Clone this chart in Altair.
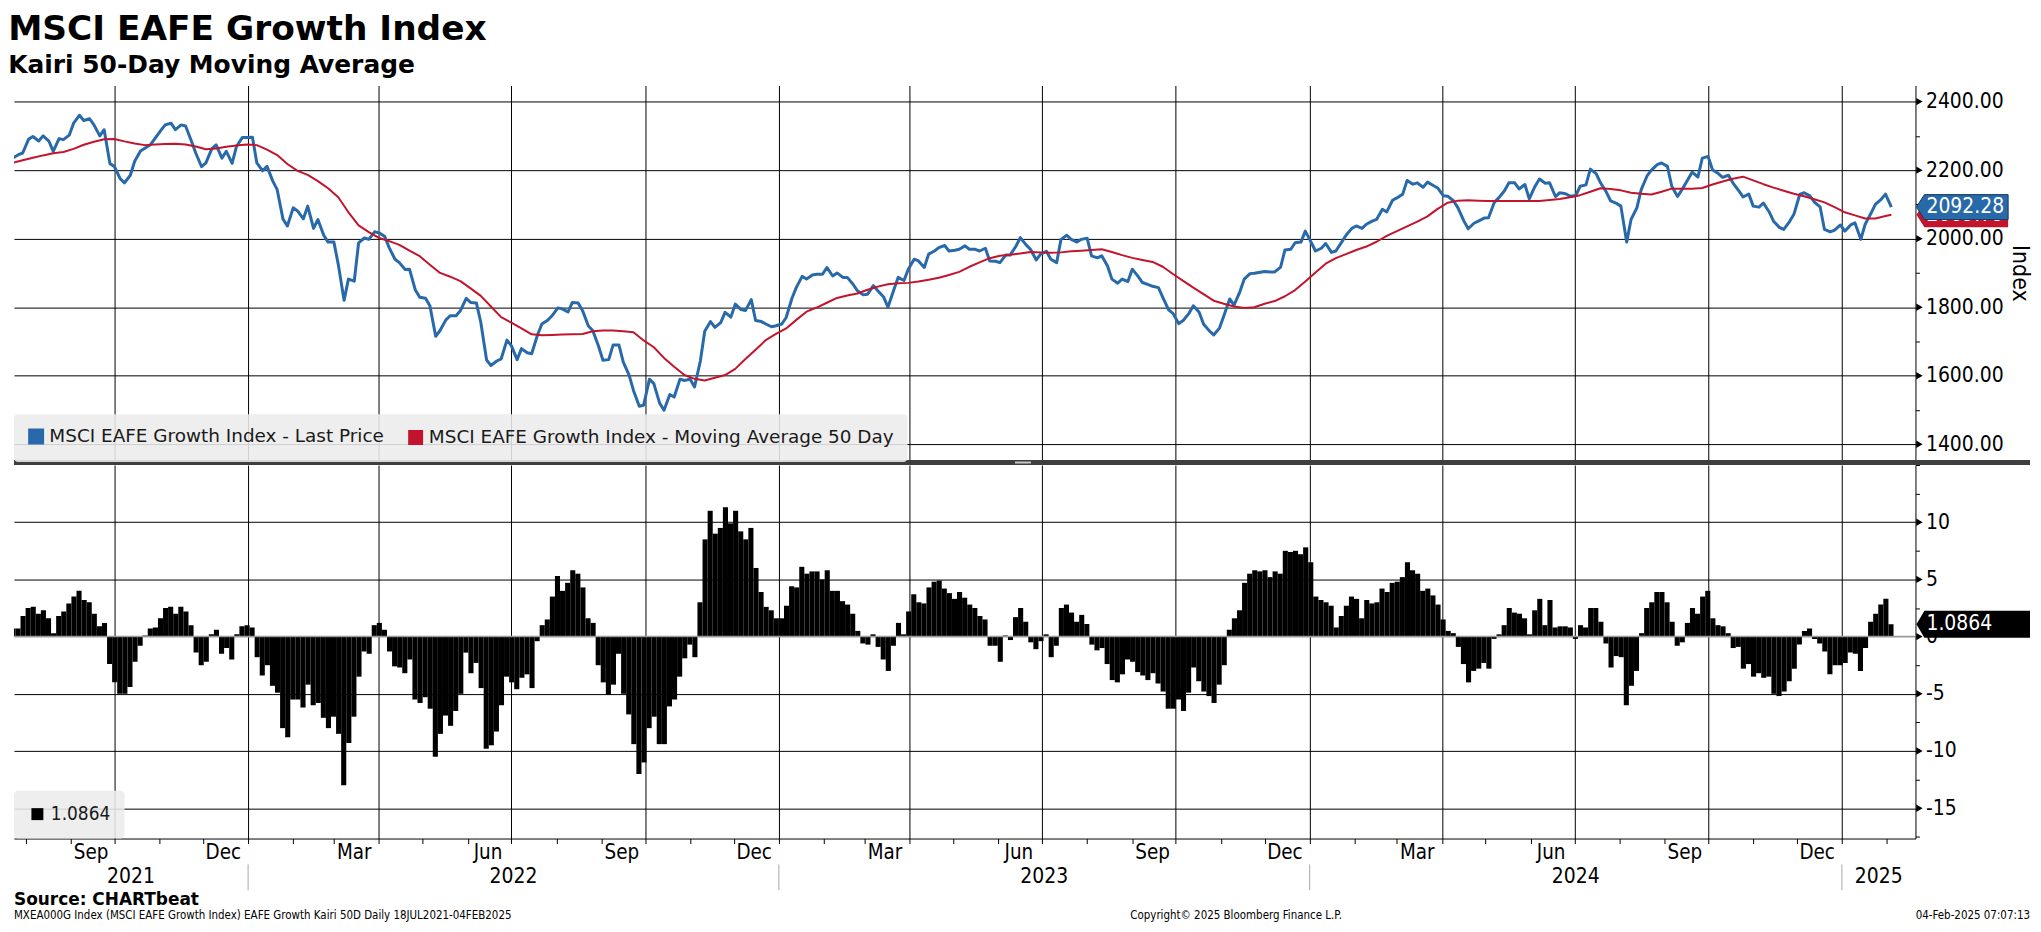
import altair as alt
import pandas as pd

# ---------------- data ----------------
# Friday closes (from 2021-07-23, weekly) plus the last day (2025-02-04),
# and the Tuesday readings three days before each Friday.
FIRST_FRIDAY = "2021-07-23"
LAST_DAY = "2025-02-04"

PRICE_FRI = [
    2235, 2250, 2298, 2300, 2255, 2289, 2337, 2345, 2332, 2318,
    2211, 2163, 2226, 2264, 2293, 2332, 2318, 2329, 2250, 2221,
    2274, 2255, 2269, 2295, 2221, 2211, 2143, 2037, 2081, 2095,
    2056, 1990, 1925, 1882, 1988, 1998, 2017, 1974, 1930, 1911,
    1829, 1804, 1732, 1775, 1790, 1814, 1756, 1630, 1649, 1688,
    1679, 1664, 1751, 1775, 1795, 1814, 1790, 1732, 1645, 1690,
    1640, 1557, 1514, 1577, 1499, 1538, 1586, 1567, 1730, 1741,
    1785, 1809, 1790, 1761, 1751, 1746, 1770, 1858, 1882, 1896,
    1916, 1900, 1887, 1848, 1838, 1848, 1800, 1887, 1911, 1935,
    1955, 1974, 1964, 1969, 1969, 1964, 1935, 1930, 1952, 2003,
    1969, 1955, 1940, 1998, 1998, 1998, 1950, 1950, 1882, 1882,
    1911, 1872, 1861, 1829, 1782, 1761, 1804, 1751, 1719, 1775,
    1806, 1882, 1899, 1904, 1903, 1967, 1988, 2022, 1964, 1986,
    1964, 2010, 2037, 2042, 2056, 2078, 2119, 2170, 2163, 2165,
    2148, 2124, 2090, 2029, 2051, 2061, 2119, 2163, 2145, 2116,
    2174, 2163, 2134, 2124, 2153, 2203, 2163, 2110, 2095, 2056,
    2143, 2200, 2221, 2153, 2143, 2194, 2235, 2201, 2179, 2163,
    2122, 2095, 2104, 2051, 2027, 2071, 2134, 2107, 2027, 2025,
    2022, 2046, 2042, 2100, 2130,
    2092.28,
]
PRICE_TUE = [
    2195, 2245, 2290, 2285, 2285, 2292, 2302, 2360, 2350, 2300,
    2219, 2175, 2185, 2256, 2275, 2316, 2337, 2332, 2285, 2210,
    2262, 2235, 2220, 2295, 2296, 2198, 2168, 2057, 2090, 2058,
    2030, 2010, 1990, 1820, 1876, 2002, 2020, 2006, 1940, 1910,
    1850, 1826, 1715, 1763, 1775, 1826, 1812, 1646, 1643, 1704,
    1647, 1667, 1719, 1762, 1798, 1786, 1812, 1745, 1686, 1647,
    1690, 1602, 1511, 1590, 1520, 1545, 1590, 1590, 1643, 1758,
    1755, 1771, 1793, 1822, 1758, 1743, 1751, 1826, 1890, 1894,
    1896, 1891, 1887, 1867, 1836, 1863, 1830, 1850, 1878, 1940,
    1916, 1964, 1980, 1966, 1979, 1969, 1972, 1934, 1952, 1978,
    1982, 1938, 1963, 1930, 2010, 1990, 2001, 1944, 1920, 1870,
    1875, 1890, 1866, 1857, 1792, 1752, 1782, 1785, 1731, 1739,
    1824, 1845, 1898, 1902, 1903, 1917, 1969, 1990, 1990, 1972,
    1960, 1990, 2030, 2030, 2051, 2086, 2112, 2130, 2159, 2150,
    2155, 2125, 2110, 2052, 2045, 2060, 2106, 2140, 2163, 2158,
    2153, 2162, 2123, 2131, 2126, 2157, 2190, 2136, 2103, 1990,
    2090, 2183, 2216, 2211, 2123, 2172, 2180, 2240, 2190, 2185,
    2140, 2130, 2092, 2078, 2033, 2050, 2129, 2125, 2093, 2020,
    2040, 2040, 1998, 2074, 2115,
]

MA50_FRI = [
    2221, 2229, 2236, 2243, 2249, 2253, 2262, 2274, 2283, 2290,
    2291, 2284, 2278, 2273, 2275, 2276, 2277, 2275, 2269, 2261,
    2263, 2268, 2272, 2275, 2273, 2260, 2244, 2218, 2198, 2186,
    2168, 2147, 2121, 2077, 2039, 2019, 2002, 1993, 1982, 1965,
    1949, 1924, 1900, 1889, 1876, 1855, 1833, 1802, 1771, 1755,
    1738, 1721, 1718, 1719, 1720, 1721, 1722, 1730, 1732, 1732,
    1730, 1727, 1703, 1683, 1652, 1626, 1602, 1591, 1586, 1594,
    1602, 1620, 1649, 1676, 1704, 1722, 1738, 1763, 1787, 1799,
    1813, 1827, 1834, 1840, 1851, 1860, 1867, 1870, 1871, 1875,
    1880, 1886, 1894, 1903, 1918, 1931, 1943, 1950, 1953, 1957,
    1961, 1960, 1959, 1960, 1963, 1965, 1967, 1969, 1961, 1952,
    1944, 1938, 1932, 1918, 1897, 1877, 1857, 1838, 1819, 1810,
    1802, 1798, 1800, 1810, 1818, 1832, 1850, 1875, 1901, 1927,
    1943, 1955, 1967, 1977, 1991, 2008, 2022, 2036, 2050, 2065,
    2087, 2105, 2111, 2112, 2111, 2110, 2110, 2110, 2110, 2110,
    2110, 2113, 2116, 2121, 2127, 2137, 2147, 2145, 2141, 2134,
    2131, 2129, 2137, 2146, 2146, 2146, 2148, 2158, 2167, 2175,
    2181, 2170, 2159, 2149, 2140, 2131, 2124, 2115, 2106, 2092,
    2077, 2068, 2059, 2059, 2066,
    2069.79,
]

KAIRI_FRI = [
    0.7, 1.8, 2.6, 2.3, 0.3, 2.2, 3.5, 3.2, 2.0, 1.2,
    -4.0, -5.0, -2.2, 0.1, 0.8, 2.5, 2.0, 2.2, -1.4, -2.2,
    0.6, -1.0, 0.2, 1.0, -1.8, -2.5, -4.9, -8.8, -5.5, -4.2,
    -5.8, -8.0, -8.5, -9.3, -3.5, -1.5, 1.2, -1.3, -2.7, -2.0,
    -5.8, -6.3, -8.5, -7.8, -5.0, -3.2, -4.5, -9.5, -6.0, -4.0,
    -3.6, -4.5, 1.0, 3.5, 4.0, 5.8, 4.3, 1.2, -4.0, -4.2,
    -5.0, -9.4, -11.0, -7.0, -9.4, -5.5, -1.9, -1.8, 8.5, 9.0,
    11.3, 11.0, 8.5, 6.0, 2.6, 1.6, 2.7, 4.3, 5.5, 5.7,
    5.8, 4.0, 2.8, 0.5, -0.7, -0.9, -3.0, 1.2, 2.2, 3.0,
    4.3, 4.9, 3.8, 3.9, 2.8, 1.8, -0.8, -2.2, -0.3, 2.5,
    -0.5, -0.4, -1.8, 2.5, 2.1, 1.9, -0.7, -1.0, -3.8, -3.3,
    -2.2, -3.4, -3.2, -4.8, -6.3, -6.5, -2.7, -4.8, -5.8, -2.5,
    1.6, 4.7, 5.8, 5.8, 5.7, 7.5, 7.5, 7.8, 3.5, 3.0,
    0.8, 2.7, 3.3, 3.2, 3.0, 3.9, 4.8, 6.5, 5.5, 4.2,
    2.8, 0.5, -0.9, -4.0, -2.8, -2.8, 0.2, 2.5, 2.0, 0.2,
    3.3, 3.2, 0.9, 0.8, 1.0, 2.5, 1.3, -2.7, -1.8, -4.3,
    0.3, 3.0, 3.9, 1.3, -0.5, 2.5, 3.5, 1.6, 0.9, -1.0,
    -2.8, -3.5, -3.6, -5.0, -4.8, -2.8, 0.5, -0.2, -1.3, -2.5,
    -2.3, -1.5, -1.0, 2.0, 3.3,
    1.0864,
]
KAIRI_TUE = [
    -1.0, 0.7, 2.5, 2.0, 1.6, 1.8, 2.9, 4.0, 3.0, 0.9,
    -2.4, -5.0, -4.4, -0.8, 0.7, 1.6, 2.6, 2.6, 1.0, -2.5,
    0.2, -1.5, -2.0, 0.9, 0.8, -3.4, -4.3, -8.0, -5.5, -6.2,
    -6.0, -7.1, -7.0, -13.0, -7.0, -1.3, 1.0, 0.6, -2.6, -3.2,
    -5.5, -5.3, -10.5, -6.9, -6.5, -1.4, -2.3, -9.8, -8.3, -3.5,
    -4.6, -3.3, -0.4, 1.5, 5.3, 4.7, 5.5, 1.6, -2.5, -5.1,
    -1.5, -6.8, -12.0, -8.0, -9.4, -6.1, -3.5, -0.7, 3.0, 11.0,
    9.5, 9.9, 9.2, 9.5, 3.9, 2.3, 1.6, 4.4, 6.1, 5.7,
    5.0, 4.0, 3.1, 2.0, -0.6, 0.2, -2.0, -0.8, 0.2, 3.7,
    2.9, 4.8, 4.2, 3.3, 3.4, 2.5, 1.5, -0.8, 0.1, 1.7,
    1.3, -1.1, 0.2, -0.8, 2.8, 1.3, 1.1, -1.2, -2.4, -4.0,
    -2.0, -3.1, -3.8, -4.1, -6.3, -5.5, -4.9, -3.9, -5.2, -4.2,
    0.6, 2.3, 5.5, 5.7, 5.2, 5.5, 7.4, 7.2, 6.5, 3.2,
    2.7, 1.8, 3.5, 1.6, 2.9, 4.2, 4.7, 5.2, 5.8, 4.0,
    3.6, 1.5, 0.3, -2.4, -3.0, -2.3, -0.2, 1.0, 2.1, 1.6,
    2.3, 1.0, 0.8, 0.9, -0.2, 0.8, 2.5, -0.6, -1.7, -6.0,
    -3.0, 2.5, 3.9, 3.0, -0.8, 1.2, 2.0, 4.0, 1.0, 0.3,
    -0.9, -2.4, -3.2, -3.5, -5.2, -3.9, -0.7, 0.7, -0.6, -3.3,
    -2.5, -1.4, -3.0, 1.3, 2.8,
]

SERIES = ["MSCI EAFE Growth Index - Last Price",
          "MSCI EAFE Growth Index - Moving Average 50 Day"]
SERIES_COLORS = ["#2869aa", "#c3142d"]
BLUE, RED = SERIES_COLORS

PRICE_TICKS = [1400, 1500, 1600, 1700, 1800, 1900, 2000, 2100, 2200, 2300, 2400]
PRICE_MAJOR = [1400, 1600, 1800, 2000, 2200, 2400]
KAIRI_TICKS = [-17.5, -15, -12.5, -10, -7.5, -5, -2.5, 0, 2.5, 5, 7.5, 10, 12.5, 15]
KAIRI_MAJOR = [-15, -10, -5, 0, 5, 10]
YEAR_LABELS = ["2021", "2022", "2023", "2024", "2025"]

TITLE = "MSCI EAFE Growth Index"
SUBTITLE = "Kairi 50-Day Moving Average"
SOURCE = "Source: CHARTbeat"
FOOT_LEFT = "MXEA000G Index (MSCI EAFE Growth Index) EAFE Growth Kairi 50D  Daily 18JUL2021-04FEB2025"
FOOT_MID = "Copyright\u00a9 2025 Bloomberg Finance L.P."
FOOT_RIGHT = "04-Feb-2025 07:07:13"

# ---------------- layout constants ----------------
W, H1, H2 = 1909, 376, 375
COND = "DejaVu Sans Condensed"
X_START = pd.Timestamp("2021-07-24")
X_END = pd.Timestamp("2025-02-20 14:00")
FMT = "%Y-%m-%dT%H:%M:%SZ"

# ---------------- frames ----------------
fridays = pd.date_range(FIRST_FRIDAY, periods=len(PRICE_FRI) - 1, freq="7D")
tuesdays = fridays - pd.Timedelta(days=3)
fri_all = list(fridays) + [pd.Timestamp(LAST_DAY)]

price_df = pd.DataFrame({"d": list(tuesdays) + fri_all, "value": PRICE_TUE + PRICE_FRI}).sort_values("d")
price_df["series"] = SERIES[0]
ma_df = pd.DataFrame({"d": fri_all, "value": MA50_FRI, "series": SERIES[1]})
lines_df = pd.concat([price_df, ma_df], ignore_index=True)
lines_df["date"] = lines_df["d"].dt.strftime(FMT)
lines_df = lines_df[["date", "value", "series"]]

kairi_label = f"{KAIRI_FRI[-1]:.4f}"
k_df = pd.DataFrame({"d": list(tuesdays) + fri_all, "kairi": KAIRI_TUE + KAIRI_FRI}).sort_values("d")
kd = pd.DatetimeIndex(k_df["d"])
kmid = list(kd[:-1] + (kd[1:] - kd[:-1]) / 2)
k_starts = [kd[0] - pd.Timedelta(days=1.5)] + kmid
k_ends = kmid + [kd[-1] + pd.Timedelta(days=1.5)]
bars_df = pd.DataFrame({
    "start": [t.strftime(FMT) for t in k_starts],
    "end": [t.strftime(FMT) for t in k_ends],
    "kairi": list(k_df["kairi"]),
    "lab": kairi_label,
})

quarter_months = pd.date_range("2021-09-01", "2024-12-01", freq="3MS")
months_df = pd.DataFrame({
    "mid": [(m + pd.Timedelta(days=14)).strftime(FMT) for m in quarter_months],
    "lab": [m.strftime("%b") for m in quarter_months],
})

year_mid, year_sep = [], []
for y in YEAR_LABELS:
    a = max(pd.Timestamp(f"{y}-01-01"), X_START)
    b = min(pd.Timestamp(f"{int(y) + 1}-01-01"), X_END)
    year_mid.append((a + (b - a) / 2).strftime(FMT))
    if pd.Timestamp(f"{y}-01-01") > X_START:
        year_sep.append(pd.Timestamp(f"{y}-01-01").strftime(FMT))
years_df = pd.DataFrame({"mid": year_mid, "lab": YEAR_LABELS})
yearsep_df = pd.DataFrame({"d": year_sep})

one = pd.DataFrame({"k": [0]})

# ---------------- scales & axes ----------------
xscale = alt.Scale(type="utc", domain=[
    alt.DateTime(year=2021, month=7, date=24, utc=True),
    alt.DateTime(year=2025, month=2, date=20, hours=14, utc=True)])
QGRID = {"condition": {"test": "utcmonth(datum.value) % 3 == 0", "value": 1}, "value": 0}
MONTHLY = {"interval": "month", "step": 1}

xaxis_top = alt.Axis(title=None, labels=False, ticks=False, domain=False, grid=True,
                     gridColor="black", gridWidth=1, gridOpacity=QGRID, tickCount=MONTHLY)
xaxis_bot = alt.Axis(title=None, labels=False, ticks=True, tickSize=5, tickColor="black",
                     domain=True, domainColor="black", domainWidth=1, grid=True,
                     gridColor="black", gridWidth=1, gridOpacity=QGRID, tickCount=MONTHLY)

ytop = alt.Scale(domain=[1354, 2447], nice=False, zero=False)
ybot = alt.Scale(domain=[-17.65, 15.0], nice=False, zero=False)

common_y = dict(orient="right", grid=True, gridWidth=1, tickSize=4, tickColor="black",
                domain=True, domainColor="black", labelFont=COND, labelFontSize=21,
                labelColor="black", labelPadding=6, labelOverlap=False, labelFlush=False)
yaxis_top = alt.Axis(
    title="Index", values=PRICE_TICKS,
    labelExpr="datum.value % 200 == 0 ? format(datum.value, '.2f') : ''",
    gridColor="black",
    gridOpacity={"condition": {"test": "datum.value % 200 == 0", "value": 1}, "value": 0},
    titleFont=COND, titleFontSize=23, titleFontWeight="normal", titleColor="black",
    titlePadding=4, **common_y)
yaxis_bot = alt.Axis(
    title=None, values=KAIRI_TICKS,
    labelExpr="(datum.value % 5 == 0 && datum.value < 15) ? ('' + datum.value) : ''",
    gridColor={"condition": {"test": "datum.value == 0", "value": "#999999"}, "value": "black"},
    gridOpacity={"condition": {"test": "datum.value % 5 == 0 && datum.value < 15", "value": 1}, "value": 0},
    **common_y)

TAG = "M-1,0L-0.826,-0.272L1,-0.272L1,0.272L-0.826,0.272Z"
TAG_K = "M-1,0L-0.86,-0.237L1,-0.237L1,0.237L-0.86,0.237Z"
series_scale = alt.Scale(domain=SERIES, range=SERIES_COLORS)

# ---------------- top panel ----------------
legend_keys = alt.Chart(lines_df).mark_square(size=0).encode(
    x=alt.X("date:T", scale=xscale, axis=xaxis_top),
    y=alt.Y("value:Q", scale=ytop, axis=yaxis_top),
    color=alt.Color("series:N", scale=series_scale,
                    legend=alt.Legend(title=None, orient="none", legendX=0, legendY=330,
                                      direction="horizontal", fillColor="rgba(236,236,236,0.88)",
                                      padding=13, cornerRadius=4, symbolType="square",
                                      symbolSize=169, symbolStrokeWidth=0, symbolOpacity=1,
                                      labelFont="DejaVu Sans", labelFontSize=18.5,
                                      labelColor="#1a1a1a", labelOffset=4, columnPadding=20,
                                      labelLimit=1000)),
)

lines = alt.Chart(lines_df).mark_line(clip=True, strokeJoin="round").encode(
    x=alt.X("date:T", scale=xscale, axis=xaxis_top),
    y=alt.Y("value:Q", scale=ytop, axis=yaxis_top),
    color=alt.Color("series:N", scale=series_scale, legend=None),
    strokeWidth=alt.StrokeWidth("series:N", scale=alt.Scale(domain=SERIES, range=[3, 2]), legend=None),
)

tri_top = alt.Chart(pd.DataFrame({"v": PRICE_MAJOR})).mark_point(
    shape="triangle-right", filled=True, size=55, color="black", opacity=1).encode(
    x=alt.value(W + 4), y=alt.Y("v:Q", scale=ytop, axis=yaxis_top))

ma_tag_df = pd.DataFrame({"v": [MA50_FRI[-1]], "t": [f"{MA50_FRI[-1]:.2f}"]})
px_tag_df = pd.DataFrame({"v": [PRICE_FRI[-1]], "t": [f"{PRICE_FRI[-1]:.2f}"]})

ma_box = alt.Chart(ma_tag_df).mark_point(shape=TAG, size=8464, filled=True, color=RED,
                                          opacity=1, strokeWidth=0).encode(
    x=alt.value(1956), y=alt.Y("v:Q", scale=ytop, axis=yaxis_top))
ma_txt = alt.Chart(ma_tag_df).mark_text(font=COND, fontSize=21, color="white", align="left",
                                         baseline="middle").encode(
    x=alt.value(1920), y=alt.Y("v:Q", scale=ytop, axis=yaxis_top), text="t:N")
px_box = alt.Chart(px_tag_df).mark_point(shape=TAG, size=8464, filled=True, fill=BLUE,
                                          stroke="#173b62", strokeWidth=1, opacity=1).encode(
    x=alt.value(1956), y=alt.Y("v:Q", scale=ytop, axis=yaxis_top))
px_txt = alt.Chart(px_tag_df).mark_text(font=COND, fontSize=21, color="white", align="left",
                                         baseline="middle").encode(
    x=alt.value(1920), y=alt.Y("v:Q", scale=ytop, axis=yaxis_top), text="t:N")

separator = alt.Chart(one).mark_rule(color="#3e3e3e", strokeWidth=5).encode(
    x=alt.value(0), x2=alt.value(2024), y=alt.value(H1 + 2.5))
handle = alt.Chart(one).mark_rule(color="#c8c8c8", strokeWidth=2).encode(
    x=alt.value(1005), x2=alt.value(1021), y=alt.value(H1 + 2.5))

top = alt.layer(legend_keys, lines, tri_top, ma_box, ma_txt, px_box, px_txt, separator,
                handle).properties(width=W, height=H1)

# ---------------- bottom panel ----------------
bars = alt.Chart(bars_df).mark_bar(clip=True).encode(
    x=alt.X("start:T", scale=xscale, axis=xaxis_bot),
    x2="end:T",
    y=alt.Y("kairi:Q", scale=ybot, axis=yaxis_bot),
    y2=alt.datum(0),
    color=alt.Color("lab:N", scale=alt.Scale(domain=[kairi_label], range=["black"]),
                    legend=alt.Legend(title=None, orient="none", legendX=0, legendY=327,
                                      fillColor="rgba(236,236,236,0.88)", padding=14,
                                      cornerRadius=4, symbolType="square", symbolSize=144,
                                      symbolOpacity=1, labelFont=COND, labelFontSize=19,
                                      labelColor="#1a1a1a", labelOffset=4)),
)

zero_rule = alt.Chart(pd.DataFrame({"z": [0]})).mark_rule(color="#999999", strokeWidth=1.5).encode(
    y=alt.Y("z:Q", scale=ybot, axis=yaxis_bot))

tri_bot = alt.Chart(pd.DataFrame({"v": KAIRI_MAJOR})).mark_point(
    shape="triangle-right", filled=True, size=55, color="black", opacity=1).encode(
    x=alt.value(W + 4), y=alt.Y("v:Q", scale=ybot, axis=yaxis_bot))

k_tag_df = pd.DataFrame({"v": [KAIRI_FRI[-1]], "t": [kairi_label]})
k_box = alt.Chart(k_tag_df).mark_point(shape=TAG_K, size=12996, filled=True, color="black",
                                        opacity=1, strokeWidth=0).encode(
    x=alt.value(1967), y=alt.Y("v:Q", scale=ybot, axis=yaxis_bot))
k_txt = alt.Chart(k_tag_df).mark_text(font=COND, fontSize=21, color="white", align="left",
                                       baseline="middle").encode(
    x=alt.value(1920), y=alt.Y("v:Q", scale=ybot, axis=yaxis_bot), text="t:N")

month_txt = alt.Chart(months_df).mark_text(font=COND, fontSize=20.5, color="black",
                                            align="center", baseline="middle").encode(
    x=alt.X("mid:T", scale=xscale, axis=xaxis_bot), y=alt.value(H2 + 15), text="lab:N")
year_txt = alt.Chart(years_df).mark_text(font=COND, fontSize=21, color="black",
                                          align="center", baseline="middle").encode(
    x=alt.X("mid:T", scale=xscale, axis=xaxis_bot), y=alt.value(H2 + 39), text="lab:N")
year_rule = alt.Chart(yearsep_df).mark_rule(color="#a8a8a8", strokeWidth=1).encode(
    x=alt.X("d:T", scale=xscale, axis=xaxis_bot), y=alt.value(H2 + 26), y2=alt.value(H2 + 52))

src_txt = alt.Chart(one).mark_text(text=SOURCE, font="DejaVu Sans", fontSize=17, fontWeight="bold",
                                    color="black", align="left", baseline="middle").encode(
    x=alt.value(0), y=alt.value(H2 + 62))
foot_l = alt.Chart(one).mark_text(text=FOOT_LEFT, font=COND, fontSize=11.5, color="black",
                                   align="left", baseline="middle").encode(
    x=alt.value(0), y=alt.value(H2 + 78))
foot_m = alt.Chart(one).mark_text(text=FOOT_MID, font=COND, fontSize=11.5, color="black",
                                   align="center", baseline="middle").encode(
    x=alt.value(1227), y=alt.value(H2 + 78))
foot_r = alt.Chart(one).mark_text(text=FOOT_RIGHT, font=COND, fontSize=11.5, color="black",
                                   align="right", baseline="middle").encode(
    x=alt.value(2024), y=alt.value(H2 + 78))

bottom = alt.layer(bars, zero_rule, tri_bot, k_box, k_txt, month_txt, year_txt, year_rule,
                   src_txt, foot_l, foot_m, foot_r).properties(width=W, height=H2)

chart = alt.vconcat(top, bottom, spacing=5, bounds="flush").resolve_scale(
    color="independent", strokeWidth="independent").properties(
    padding={"left": 0, "top": 2, "right": 0, "bottom": 0},
    title=alt.TitleParams(text=TITLE, subtitle=SUBTITLE, anchor="start", font="DejaVu Sans",
                          fontSize=34.5, fontWeight="bold", color="black",
                          subtitleFont="DejaVu Sans", subtitleFontSize=25,
                          subtitleFontWeight="bold", subtitleColor="black",
                          subtitlePadding=5.5, offset=7),
).configure_view(stroke=None)

chart.save("out.html", embed_options={"renderer": "svg", "actions": False})
